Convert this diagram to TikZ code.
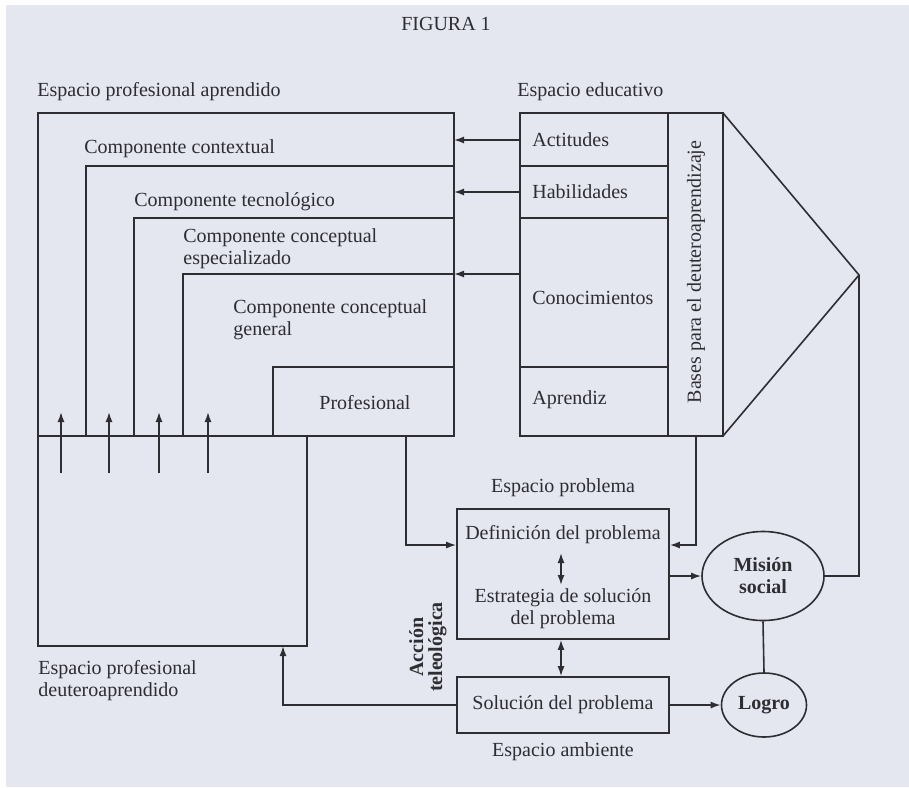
\documentclass[tikz,border=0pt]{standalone}
\usepackage{fontspec}
\setmainfont{Liberation Serif}
\usetikzlibrary{positioning,arrows.meta,shapes.geometric}
\definecolor{paper}{RGB}{228,230,240}
\definecolor{ink}{RGB}{45,45,50}
\tikzset{
  lbl/.style={font=\normalsize, inner sep=0pt, anchor=west, align=left, text=ink},
  ctr/.style={font=\normalsize, inner sep=0pt, align=center, text=ink},
  frame/.style={draw=ink, line width=0.8pt},
  panel/.style={rectangle, draw=ink, line width=0.8pt, inner sep=0pt},
  goal/.style={ellipse, draw=ink, line width=0.8pt, inner sep=0pt, font=\normalsize\bfseries, align=center, text=ink},
  fwd/.style={draw=ink, line width=0.8pt, -{Latex[length=5pt,width=3.5pt]}},
  both/.style={draw=ink, line width=0.8pt, {Latex[length=5pt,width=3.5pt]}-{Latex[length=5pt,width=3.5pt]}},
}
\begin{document}
\begin{tikzpicture}[x=0.5pt,y=-0.5pt]
  % paper
  \fill[white] (0,0) rectangle (909,787);
  \fill[paper] (6,5) rectangle (909,787);
  \useasboundingbox (0,0) rectangle (909,787);

  \node[ctr] (fig) at (446,24) {FIGURA 1};

  % espacio profesional aprendido
  \node[lbl] (aprendidolbl) at (37,92) {Espacio profesional aprendido};
  \draw[frame] (38,113) rectangle (454,436);
  \coordinate (contextual) at (454,166);
  \coordinate (tecnologico) at (454,218);
  \coordinate (especializado) at (454,274);
  \draw[frame] (86,436) |- (contextual);
  \draw[frame] (134,436) |- (tecnologico);
  \draw[frame] (183,436) |- (especializado);
  \draw[frame] (273,436) |- (454,367);
  \node[lbl] (ctx) at (84,149) {Componente contextual};
  \node[lbl] (tec) at (134,202) {Componente tecnológico};
  \node[lbl] (esp) at (183,249) {Componente conceptual\\[-1pt]especializado};
  \node[lbl] (gen) at (233,320) {Componente conceptual\\[-1pt]general};
  \node[ctr] (prof) at (365,403) {Profesional};

  % espacio profesional deuteroaprendido
  \draw[frame] (38,436) rectangle (307,646);
  \coordinate (deutero) at (283,646);
  \foreach \x in {61,109,159,208}
    \draw[fwd] (\x,473) -- (\x,412);
  \node[lbl] (deuterolbl) at (38,681) {Espacio profesional\\[-1pt]deuteroaprendido};

  % espacio educativo
  \node[lbl] (educlbl) at (517,92) {Espacio educativo};
  \draw[frame] (520,113) rectangle (723,436);
  \draw[frame] (668,113) -- (668,436);
  \foreach \y in {166,218,367}
    \draw[frame] (520,\y) -- (668,\y);
  \node[lbl] (act) at (532,140) {Actitudes};
  \node[lbl] (hab) at (532,192) {Habilidades};
  \node[lbl] (con) at (532,298) {Conocimientos};
  \node[lbl] (apr) at (532,400) {Aprendiz};
  \node[ctr, rotate=90] (bases) at (696,272) {Bases para el deuteroaprendizaje};
  \coordinate (apex) at (859,275);
  \draw[frame] (723,113) -- (apex) -- (723,436);

  \draw[fwd] (520,140) -- (454,140);
  \draw[fwd] (520,192) -- (454,192);
  \draw[fwd] (520,274) -- (especializado);

  % espacio problema
  \node[ctr] (problemalbl) at (563,488) {Espacio problema};
  \node[panel, minimum width=106pt, minimum height=65pt] (problema) at (563,574) {};
  \node[ctr] (definicion) at (563,535) {Definición del problema};
  \node[ctr] (estrategia) at (563,609) {Estrategia de solución\\[-1pt]del problema};
  \draw[both] (561,553) -- (561,585);

  % espacio ambiente
  \node[panel, ctr, draw=ink, minimum width=106pt, minimum height=28pt] (solucion) at (563,705) {Solución del problema};
  \node[ctr] (ambientelbl) at (563,752) {Espacio ambiente};
  \node[ctr, rotate=90, font=\normalsize\bfseries] (accion) at (428,647) {Acción\\[-2.5pt]teleológica};

  % mision y logro
  \node[goal, minimum width=61pt, minimum height=44.5pt] (mision) at (763,576) {Misión\\[-1pt]social};
  \node[goal, minimum width=42.5pt, minimum height=32pt] (logro) at (764,705) {Logro};

  % connectors
  \draw[fwd] (406,436) |- (problema.west |- 0,545);
  \draw[fwd] (696,436) |- (problema.east |- 0,545);
  \draw[both] (problema.south -| 561,0) -- (solucion.north -| 561,0);
  \draw[fwd] (problema.east |- mision.west) -- (mision.west);
  \draw[fwd] (solucion.east) -- (logro.west);
  \draw[frame] (mision.south) -- (logro.north);
  \draw[frame] (mision.east) -| (apex);
  \draw[fwd] (solucion.west) -| (deutero);
\end{tikzpicture}
\end{document}
